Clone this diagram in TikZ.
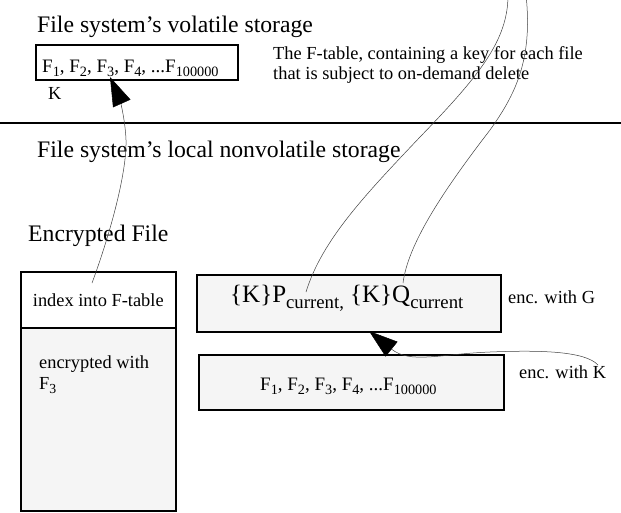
\documentclass[tikz,border=0pt]{standalone}
\usepackage{fontspec}
\setmainfont{Liberation Serif}
\usepackage{tikz}
\usetikzlibrary{arrows.meta}

\definecolor{boxgray}{RGB}{245,245,245}
\newcommand{\lo}[1]{\raisebox{-0.25em}{\scalebox{0.75}{#1}}}

\tikzset{
  ttl/.style={inner sep=0pt,font=\fontsize{23.7}{27}\selectfont},
  lbl/.style={inner sep=0pt,font=\fontsize{18.4}{20}\selectfont},
  flst/.style={inner sep=0pt,font=\fontsize{19}{21}\selectfont},
  bigl/.style={inner sep=0pt,font=\fontsize{25}{28}\selectfont},
  tbox/.style={draw,line width=1.6pt,inner sep=0pt,anchor=north west},
  link/.style={line width=0.5pt,draw=black!75},
  bighead/.style={-{Triangle[length=29pt,width=19pt,color=black]}}
}

\begin{document}
\begin{tikzpicture}[x=1pt,y=-1pt]
\useasboundingbox (0,0) rectangle (621,512);
\clip (0,0) rectangle (621,512);

\node[ttl,anchor=base west] (vol) at (37,32) {File system's volatile storage};
\node[tbox,minimum width=202pt,minimum height=35pt] (ftab) at (35,44) {};
\node[flst,anchor=base west] (flist) at (42,72) {F\lo{1}, F\lo{2}, F\lo{3}, F\lo{4}, ...F\lo{100000}};
\node[lbl,anchor=base west] (key) at (48,99) {K};
\node[lbl,anchor=base west] (note1) at (273,59) {The F-table, containing a key for each file};
\node[lbl,anchor=base west] (note2) at (273,79) {that is subject to on-demand delete};

\coordinate (sepl) at (0,123);
\coordinate (sepr) at (621,123);
\draw[line width=1.6pt] (sepl) -- (sepr);

\node[ttl,anchor=base west] (nonvol) at (37,157) {File system's local nonvolatile storage};
\node[ttl,anchor=base west] (encf) at (28,241) {Encrypted File};

\node[tbox,fill=white,minimum width=155pt,minimum height=56pt,lbl,anchor=north west] (idx) at (20,271) {index into F-table};
\node[tbox,fill=boxgray,minimum width=155pt,minimum height=183pt] (body) at (20,327) {};
\node[lbl,anchor=base west] (encw) at (39,368) {encrypted with};
\node[lbl,anchor=base west] (fthree) at (39,389) {F\lo{3}};

\node[tbox,fill=boxgray,minimum width=304pt,minimum height=57pt] (gbox) at (196,274) {};
\node[bigl,anchor=base west] (pq) at (230,302) {\{K\}P\lo{current,} \{K\}Q\lo{current}};
\node[tbox,fill=boxgray,minimum width=305pt,minimum height=55pt] (kbox) at (198,354) {};
\node[flst,anchor=base west] (klist) at (260,390) {F\lo{1}, F\lo{2}, F\lo{3}, F\lo{4}, ...F\lo{100000}};

\node[lbl,anchor=base west] (encg) at (508,303) {enc. with G};
\node[lbl,anchor=base west] (enck) at (519,378) {enc. with K};

% connectors
\coordinate (idxtop) at (92,283);
\coordinate (f3) at (110,77);
\draw[link,bighead] (idxtop) .. controls (108,240) and (127,175) .. (126,140) .. controls (125,115) and (118,95) .. (f3);

\coordinate (kstart) at (598,365);
\coordinate (gtip) at (369,331);
\draw[link,bighead] (kstart) .. controls (585,351) and (540,350) .. (490,352) .. controls (440,354) and (410,364) .. (gtip);

\coordinate (pend) at (306,292);
\coordinate (ptop) at (508,-5);
\draw[link] (pend) .. controls (322,240) and (365,195) .. (420,137) .. controls (480,75) and (508,40) .. (ptop);

\coordinate (qend) at (403,283);
\coordinate (qtop) at (526,-5);
\draw[link] (qend) .. controls (408,245) and (440,195) .. (490,130) .. controls (515,95) and (533,60) .. (qtop);

\end{tikzpicture}
\end{document}
